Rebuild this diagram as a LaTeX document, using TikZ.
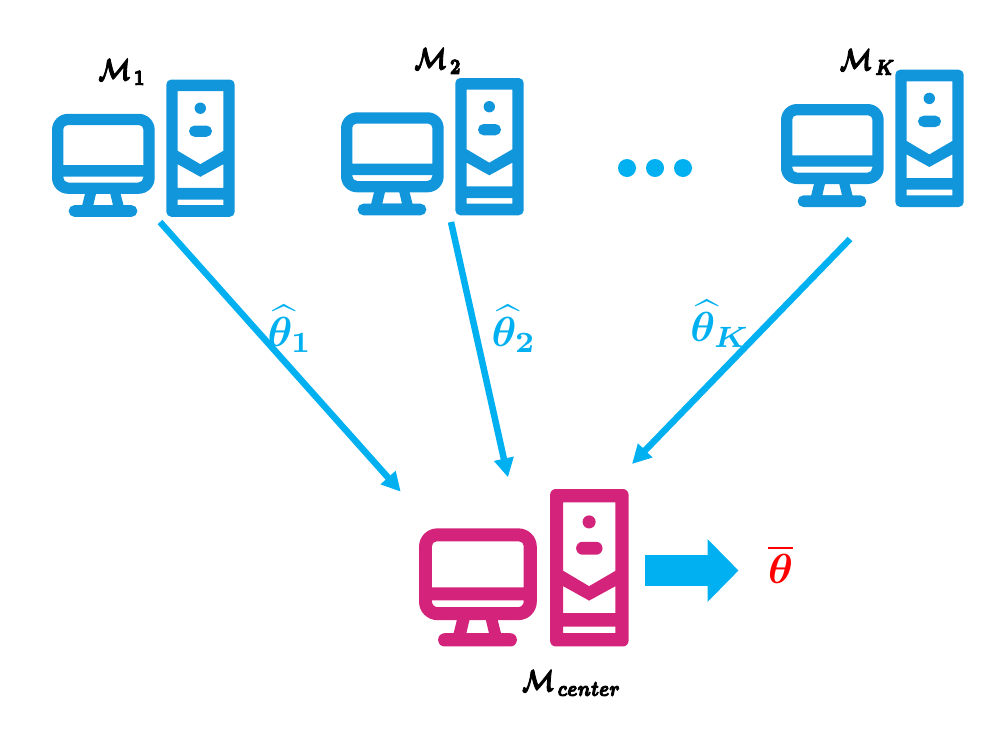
\documentclass[tikz,border=0pt]{standalone}
\usepackage{amsmath,bm}
\usetikzlibrary{arrows.meta}
\definecolor{clientblue}{HTML}{1296DB}
\definecolor{linkblue}{HTML}{00B0F0}
\definecolor{hostpink}{HTML}{D4237A}
% heavier glyphs: fill and stroke the text outlines
\newcommand{\heavytext}{\special{pdf:code 2 Tr 0.35 w}}
\tikzset{
  x=1pt,y=-1pt,
  % monitor and tower icon; arguments: colour and size factor
  pics/computer/.style 2 args={code={
    \begin{scope}[scale=#2]
      % tower with its window and chevron panels
      \fill[#1,even odd rule]
        [rounded corners=#2*5pt] (114.3,0) rectangle (182.7,137.3)
        [sharp corners]
        (125.7,11.7) -- (171.3,11.7) -- (171.3,71.3) -- (148.3,84.7) -- (125.7,71.3) -- cycle
        (125.7,84.7) -- (148.3,97.3) -- (171.3,84.7) -- (171.3,108.3) -- (125.7,108.3) -- cycle
        (125.7,120) rectangle (171.3,125.7);
      \fill[#1] (148.3,28.7) circle[radius=5.7];
      \fill[#1,rounded corners=#2*5.6pt] (137,46) rectangle (160,57.3);
      % monitor body, screen and lower strip
      \fill[#1,even odd rule]
        [rounded corners=#2*16pt] (0,34.3) rectangle (102.7,114.3)
        [sharp corners] (11.3,85.7) [rounded corners=#2*4pt] -- (11.3,45.7) -- (91.3,45.7) [sharp corners] -- (91.3,85.7) -- cycle
        (11.3,97) -- (91.3,97) [rounded corners=#2*5pt] -- (91.3,103) -- (11.3,103) [sharp corners] -- cycle;
      % stand and foot
      \fill[#1,even odd rule]
        (33.3,113) -- (30,126.5) -- (71.7,126.5) -- (68.3,113) -- (58,113) -- (58.3,114.3) -- (61,125.7) -- (41.3,125.7) -- (44,114.3) -- (44.3,113) -- cycle;
      \fill[#1,rounded corners=#2*5.6pt] (16.7,125.7) rectangle (85.3,137.3);
    \end{scope}
  }},
  linkarrow/.style={linkblue,line width=6.5pt,-{Triangle[length=19pt,width=19pt]}},
  outarrow/.style={linkblue,line width=31pt,-{Triangle[length=31pt,width=61pt]}},
  dotmark/.style={circle,fill=linkblue,inner sep=0pt,minimum size=18pt},
  machine/.style={inner sep=0pt,xscale=2.35,yscale=3.05,text=black,font=\heavytext},
  estimate/.style={inner sep=0pt,scale=4.2,text=linkblue},
}
\begin{document}
\begin{tikzpicture}
\useasboundingbox (0,0) rectangle (1000,750);

% machines
\pic (client1) at (52,79.5) {computer={clientblue}{1}};
\pic (client2) at (341,78) {computer={clientblue}{1}};
\pic (clientK) at (781,69.7) {computer={clientblue}{1}};
\pic (host) at (419,489) {computer={hostpink}{1.147}};

% machine labels
\node[machine] (m1) at (122,72) {$\bm{\mathcal{M}}_{\mkern3mu\bm{1}}$};
\node[machine] (m2) at (438,61) {$\bm{\mathcal{M}}_{\mkern3mu\bm{2}}$};
\node[machine] (mK) at (867.5,62) {$\bm{\mathcal{M}}_{\mkern3mu\bm{K}}$};
\node[machine] (mc) at (571.5,683) {$\bm{\mathcal{M}}_{\mkern3mu\bm{center}}$};

% ellipsis between the clients
\node[dotmark] (dot1) at (627,168) {};
\node[dotmark] (dot2) at (655,168) {};
\node[dotmark] (dot3) at (683,168) {};

% uploads to the central machine
\coordinate (from1) at (160,222);
\coordinate (from2) at (451,222);
\coordinate (fromK) at (850,239);
\coordinate (to1) at (400.7,491.7);
\coordinate (to2) at (508,477.3);
\coordinate (toK) at (632,464);
\draw[linkarrow] (from1) -- (to1);
\draw[linkarrow] (from2) -- (to2);
\draw[linkarrow] (fromK) -- (toK);

% transmitted estimates
\node[estimate] (t1) at (290,329) {$\bm{\widehat{\theta}}_{\bm{1}}$};
\node[estimate] (t2) at (514,329) {$\bm{\widehat{\theta}}_{\bm{2}}$};
\node[estimate] (tK) at (720,324) {$\bm{\widehat{\theta}}_{\bm{K}}$};

% aggregated output
\coordinate (outstart) at (645,570.5);
\coordinate (outend) at (738.5,570.5);
\draw[outarrow] (outstart) -- (outend);
\node[estimate,text=red] (tbar) at (780.5,564.5) {$\overline{\bm{\theta}}$};
\end{tikzpicture}
\end{document}
